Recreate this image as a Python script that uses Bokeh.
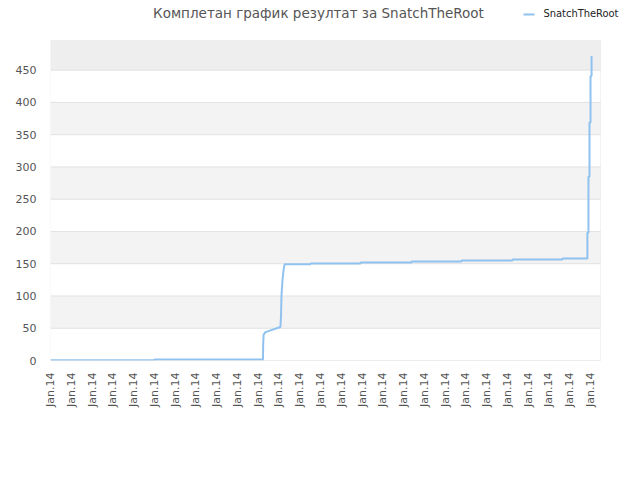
import math
from bokeh.plotting import figure
from bokeh.models import Range1d, FixedTicker, BoxAnnotation
from bokeh.core.properties import value
from bokeh.embed import file_html
from bokeh.resources import INLINE

title_text = "Комплетан график резултат за SnatchTheRoot"
series_name = "SnatchTheRoot"
x_labels = ["Jan.14"] * 27
y_ticks = [0, 50, 100, 150, 200, 250, 300, 350, 400, 450]

# cumulative score over time (x in label-slot units)
xs = [0.0, 5.0, 5.0, 10.23, 10.24, 10.26, 10.35, 11.07, 11.10, 11.12, 11.17, 11.22, 11.27,
      12.52, 12.52, 14.93, 14.93, 17.38, 17.38, 19.79, 19.79, 22.24, 22.24, 24.65, 24.65,
      25.85, 25.85, 25.90, 25.90, 25.95, 25.95, 26.0, 26.0, 26.05, 26.05]
ys = [0.5, 0.5, 1.5, 1.5, 25, 40, 44, 52, 70, 100, 125, 140, 149,
      149, 150.5, 150.5, 152, 152, 153.5, 153.5, 155, 155, 156.5, 156.5, 158,
      158, 198, 198, 285, 285, 369, 369, 441, 441, 472]

LINE_COLOR = "#90c2f0"
W, H = 636, 476
# plot area in page pixels
PL, PR, PT, PB = 50, 600, 40, 360
XMAX = 26.48   # right edge of plot area (label-slot units)
YMAX = 496     # top edge of plot area

sx = XMAX / (PR - PL)
sy = YMAX / (PB - PT)

def dx(px):
    return (px - PL) * sx

def dy(py):
    return (PB - py) * sy

# frame covers plot area plus header/right margin so title & legend are real glyph text
p = figure(width=W, height=H, output_backend="svg", toolbar_location=None,
           x_range=Range1d(0, dx(W)), y_range=Range1d(0, dy(0)),
           min_border_left=PL, min_border_right=0, min_border_top=0, min_border_bottom=H - PB)
p.background_fill_color = "white"
p.border_fill_color = "white"
p.outline_line_color = None
p.grid.visible = False

# alternating bands
tops = y_ticks[1:] + [YMAX]
for i, (b, t) in enumerate(zip(y_ticks, tops)):
    if i % 2 == 1:
        col = "#eeeeee" if t == YMAX else "#f3f3f3"
        p.add_layout(BoxAnnotation(left=0, right=XMAX, bottom=b, top=t, fill_color=col,
                                   fill_alpha=1, line_alpha=0, level="underlay"))

# horizontal grid lines within plot area
p.segment(x0=[0] * len(y_ticks), x1=[XMAX] * len(y_ticks), y0=y_ticks, y1=y_ticks,
          line_color="#e2e2e2", line_width=1)

# plot area border
p.add_layout(BoxAnnotation(left=0, right=XMAX, bottom=0, top=YMAX, fill_alpha=0,
                           line_color="#d8d8d8", line_width=1, level="overlay"))

p.yaxis.ticker = FixedTicker(ticks=y_ticks)
p.yaxis.axis_line_color = None
p.yaxis.major_tick_line_color = None
p.yaxis.minor_tick_line_color = None
p.yaxis.major_label_text_font = "DejaVu Sans"
p.yaxis.major_label_text_font_size = "11px"
p.yaxis.major_label_text_color = "#555555"
p.yaxis.major_label_standoff = 8

p.xaxis.ticker = FixedTicker(ticks=list(range(len(x_labels))))
p.xaxis.major_label_overrides = {i: l for i, l in enumerate(x_labels)}
p.xaxis.major_label_orientation = math.pi / 2
p.xaxis.axis_line_color = None
p.xaxis.major_tick_line_color = None
p.xaxis.minor_tick_line_color = None
p.xaxis.major_label_text_font = "DejaVu Sans"
p.xaxis.major_label_text_font_size = "11px"
p.xaxis.major_label_text_color = "#555555"
p.xaxis.major_label_standoff = 6

p.line(xs, ys, line_color=LINE_COLOR, line_width=2)

# title
p.text(x=[dx(318)], y=[dy(12)], text=[title_text], text_font=value("DejaVu Sans"),
       text_font_size="13.5px", text_color="#555555", text_align="center", text_baseline="middle")
# legend
p.line(x=[dx(523), dx(534)], y=[dy(14), dy(14)], line_color=LINE_COLOR, line_width=2)
p.text(x=[dx(543)], y=[dy(12.5)], text=[series_name], text_font=value("DejaVu Sans Condensed"),
       text_font_size="11px", text_color="#222222", text_align="left", text_baseline="middle")

open("out.html", "w").write(file_html(p, INLINE))
